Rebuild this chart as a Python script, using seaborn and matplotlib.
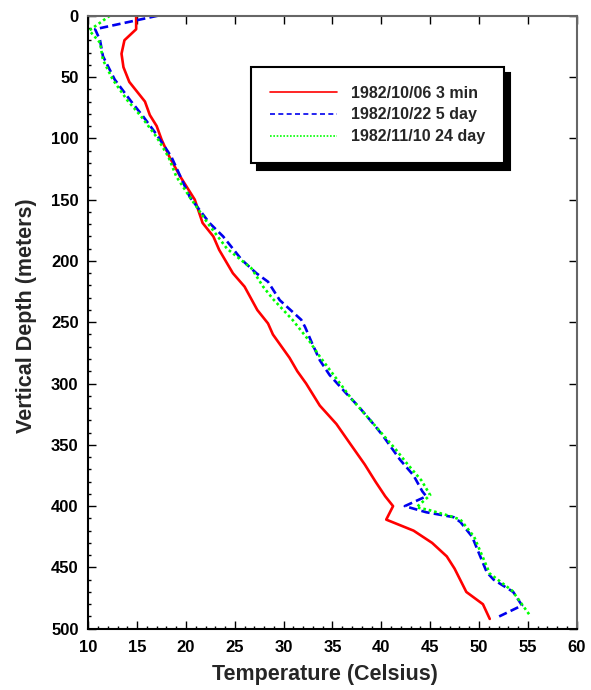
import numpy as np
import pandas as pd
import matplotlib
matplotlib.use("Agg")
import matplotlib.pyplot as plt
from matplotlib.ticker import MultipleLocator
import seaborn as sns

# =========================
# DATA
# =========================
red_depth = [0, 11, 20, 31, 42, 54, 61, 70, 81, 90, 101, 115, 131, 150, 169, 180,
             191, 210, 221, 240, 251, 260, 279, 290, 300, 318, 333, 349, 366, 380,
             392, 400, 411, 420, 430, 441, 451, 470, 480, 492]
red_temp = [14.9, 14.9, 13.7, 13.4, 13.6, 14.2, 14.9, 15.8, 16.3, 17.0, 17.5, 18.3,
            19.4, 20.9, 21.7, 22.8, 23.4, 24.8, 26.0, 27.3, 28.4, 28.9, 30.6, 31.4,
            32.3, 33.7, 35.4, 36.8, 38.3, 39.4, 40.4, 41.2, 40.5, 43.3, 45.2, 46.7,
            47.5, 48.7, 50.4, 51.1]

blue_depth = [0, 11, 20, 33, 52, 69, 82, 97, 115, 148, 169, 180, 199, 210, 217, 232,
              248, 254, 267, 281, 293, 308, 319, 335, 343, 362, 375, 388, 392, 400,
              405, 409, 413, 425, 454, 460, 470, 481, 491]
blue_temp = [17.1, 10.7, 11.2, 11.5, 12.7, 14.3, 15.6, 17.0, 18.5, 20.4, 22.4, 23.8,
             25.7, 27.2, 28.4, 29.6, 31.8, 32.2, 32.9, 33.7, 34.7, 36.4, 37.7, 39.4,
             40.2, 41.9, 43.3, 44.2, 44.6, 42.4, 44.6, 47.4, 48.1, 49.3, 50.8, 51.5,
             53.5, 54.4, 51.8]

green_depth = [0, 12, 22, 36, 52, 69, 82, 99, 115, 131, 148, 170, 190, 206, 221, 231,
               248, 265, 278, 296, 313, 332, 354, 365, 379, 391, 401, 403, 408, 411,
               425, 440, 455, 469, 489]
green_temp = [12.2, 10.1, 11.2, 11.5, 12.5, 14.0, 15.4, 17.0, 18.2, 19.0, 20.4, 22.3,
              24.2, 26.7, 27.9, 28.9, 30.9, 32.6, 33.7, 35.4, 37.0, 39.1, 41.5, 42.6,
              44.1, 45.0, 43.6, 44.8, 47.0, 48.1, 49.5, 50.3, 51.1, 53.4, 55.2]

labels = ["1982/10/06 3 min", "1982/10/22 5 day", "1982/11/10 24 day"]
colors = ["#ff0000", "#0000ee", "#00ff00"]

# =========================
# STYLE
# =========================
sns.set_style("ticks")
plt.rcParams["font.family"] = ["Liberation Sans", "DejaVu Sans"]
plt.rcParams["font.weight"] = "bold"
plt.rcParams["axes.labelweight"] = "bold"

fig = plt.figure(figsize=(5.91, 6.90), dpi=100)
ax = fig.add_axes([0.1494, 0.0888, 0.8264, 0.8884])

series = [
    (red_temp, red_depth, "-"),
    (blue_temp, blue_depth, (0, (3.2, 1.6))),
    (green_temp, green_depth, (0, (1, 1.1))),
]

for (temp, depth, ls), lab, col in zip(series, labels, colors):
    df = pd.DataFrame({"temp": temp, "depth": depth})
    sns.lineplot(data=df, x="temp", y="depth", sort=False, estimator=None,
                 color=col, linestyle=ls, linewidth=1.9, label=lab, ax=ax)

ax.set_xlim(10, 60)
ax.set_ylim(500, 0)
ax.xaxis.set_major_locator(MultipleLocator(5))
ax.xaxis.set_minor_locator(MultipleLocator(1))
ax.yaxis.set_major_locator(MultipleLocator(50))
ax.yaxis.set_minor_locator(MultipleLocator(10))

ax.tick_params(which="both", direction="in", width=1, colors="black", labelsize=12)
ax.tick_params(which="major", length=6, top=True, right=True)
ax.tick_params(which="minor", length=2.5, top=False, right=False)
ax.tick_params(axis="x", which="major", pad=8)
ax.tick_params(axis="y", which="major", pad=7)

for side in ["left", "bottom"]:
    ax.spines[side].set_linewidth(1.5)
    ax.spines[side].set_color("black")
for side in ["top", "right"]:
    ax.spines[side].set_linewidth(1.5)
    ax.spines[side].set_color("#666666")

ax.set_xlabel("Temperature (Celsius)", fontsize=15.5, labelpad=8)
ax.set_ylabel("Vertical Depth (meters)", fontsize=15.5, labelpad=3)
ax.xaxis.set_label_coords(0.485, -0.058)
ax.yaxis.set_label_coords(-0.105, 0.51)

leg = ax.legend(loc="upper left", bbox_to_anchor=(0.333, 0.917), fontsize=11.5,
                frameon=True, fancybox=False, borderpad=1.2, handlelength=4.2,
                handletextpad=0.85, labelspacing=0.42, borderaxespad=0,
                shadow={"ox": 4.5, "oy": -4.5, "facecolor": "black",
                        "edgecolor": "black", "alpha": 1})
leg.get_frame().set_edgecolor("black")
leg.get_frame().set_linewidth(1.5)
for line, ls in zip(leg.get_lines(), ["-", (0, (3, 2)), (0, (1, 1))]):
    line.set_linewidth(1.2)
    line.set_linestyle(ls)

fig.savefig("out.png", dpi=100)
